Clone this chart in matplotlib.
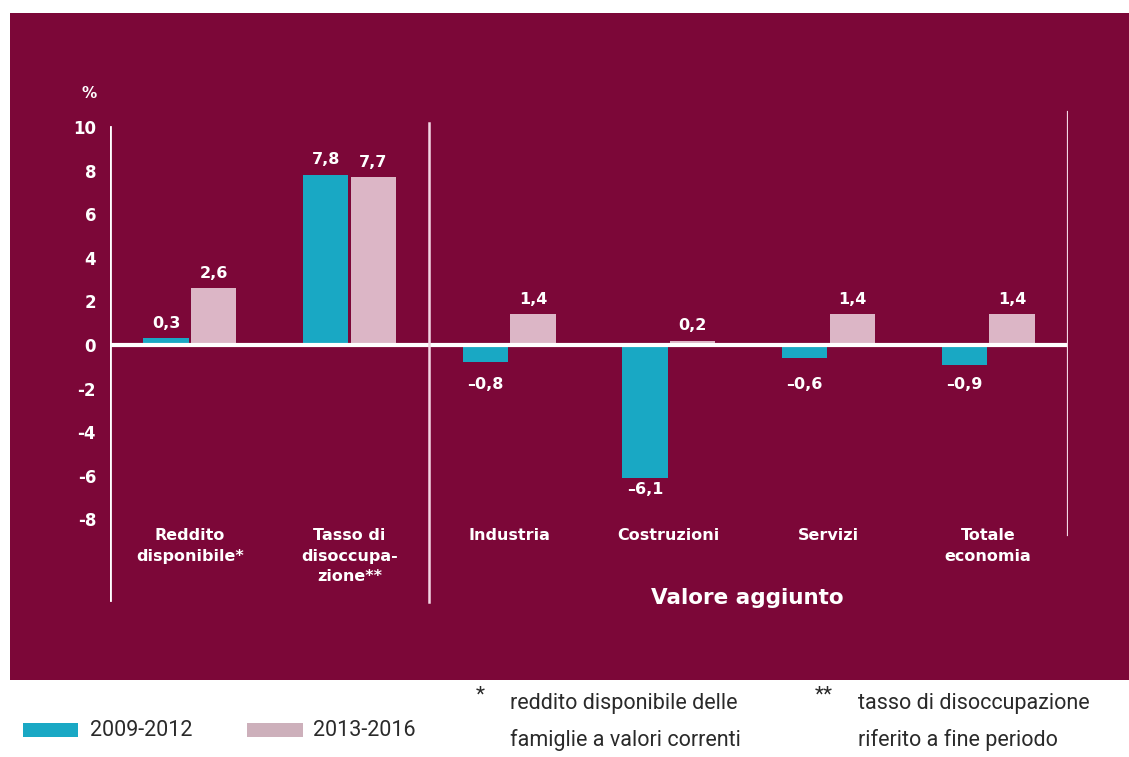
import matplotlib
matplotlib.use("Agg")
import matplotlib.pyplot as plt
from matplotlib.patches import Rectangle
import numpy as np

categories = ["Reddito\ndisponibile*", "Tasso di\ndisoccupa-\nzione**",
              "Industria", "Costruzioni", "Servizi", "Totale\neconomia"]
series_2009_2012 = [0.3, 7.8, -0.8, -6.1, -0.6, -0.9]
series_2013_2016 = [2.6, 7.7, 1.4, 0.2, 1.4, 1.4]
series_names = ["2009-2012", "2013-2016"]
yticks = [-8, -6, -4, -2, 0, 2, 4, 6, 8, 10]

MAROON = "#7c0738"
TEAL = "#19a8c4"
PINK = "#dcb6c6"
WHITE = "#ffffff"
GREY = "#2a2a2a"
NARROW = "Roboto"

W, H = 1129, 757
fig = plt.figure(figsize=(W / 100, H / 100), dpi=100)
fig.patch.set_facecolor("white")

def fx(px):
    return px / W

def fy(py):
    return 1 - py / H

fig.add_artist(Rectangle((fx(10), fy(680)), fx(1129) - fx(10), fy(13) - fy(680),
                         transform=fig.transFigure, facecolor=MAROON,
                         edgecolor="none", zorder=0))

ax = fig.add_axes([fx(110), fy(606.6), fx(1068) - fx(110), fy(83.4) - fy(606.6)])
ax.set_facecolor("none")
ax.set_xlim(-0.5, 5.5)
ax.set_ylim(-12, 12)
for s in ax.spines.values():
    s.set_visible(False)

x = np.arange(len(categories))
bw = 0.285
off = 0.149
ax.bar(x - off, series_2009_2012, bw, color=TEAL, zorder=2)
ax.bar(x + off, series_2013_2016, bw, color=PINK, zorder=2)

def fmt(v):
    s = f"{abs(v):.1f}".replace(".", ",")
    return ("\u2013" + s) if v < 0 else s

for xs, vals in ((x - off, series_2009_2012), (x + off, series_2013_2016)):
    for xi, v in zip(xs, vals):
        if v >= 0:
            ax.text(xi, v + 0.35, fmt(v), ha="center", va="bottom", color=WHITE,
                    fontsize=11.5, fontweight="bold", zorder=4)
        else:
            ax.text(xi, min(v - 0.55, -1.8), fmt(v), ha="center", va="center",
                    color=WHITE, fontsize=11.5, fontweight="bold", zorder=4)

# structural lines
ax.plot([-0.5, 5.5], [0, 0], color=WHITE, lw=3, zorder=3, solid_capstyle="butt")
ax.plot([-0.5, -0.5], [10, -11.7], color=WHITE, lw=2, zorder=3)
ax.plot([1.5, 1.5], [10.2, -11.8], color="#f3d6e4", lw=1.8, zorder=3)
ax.plot([5.5, 5.5], [10.7, -8.7], color="#f3d6e4", lw=1.6, zorder=3)

ax.set_yticks(yticks)
ax.set_yticklabels([str(t) for t in yticks])
ax.tick_params(axis="y", length=0, pad=10, labelcolor=WHITE, labelsize=12)
for lab in ax.get_yticklabels():
    lab.set_fontweight("bold")
ax.set_xticks([])
ax.text(-0.58, 11.55, "%", ha="right", va="center",
        color=WHITE, fontsize=11, fontweight="bold", clip_on=False)

for xi, c in zip(x, categories):
    ax.text(xi, -8.4, c, ha="center", va="top", color=WHITE, fontsize=11.5,
            fontweight="bold", linespacing=1.45)

ax.text(3.49, -11.6, "Valore aggiunto", ha="center", va="center", color=WHITE,
        fontsize=15.5, fontweight="bold", clip_on=False)

def foot(x0, yc, s, size=15.5):
    fig.text(fx(x0), fy(yc), s, ha="left", va="center", color=GREY,
             fontsize=size, family=NARROW)

# legend (bottom strip)
fig.add_artist(Rectangle((fx(23), fy(737)), fx(78) - fx(23), fy(723) - fy(737),
                         transform=fig.transFigure, facecolor=TEAL, edgecolor="none"))
fig.add_artist(Rectangle((fx(247), fy(737)), fx(303) - fx(247), fy(723) - fy(737),
                         transform=fig.transFigure, facecolor="#cdb0bb", edgecolor="none"))
foot(90, 731, series_names[0], 15.5)
foot(313, 731, series_names[1], 15.5)

foot(476, 695, "*", 15)
foot(510, 704, "reddito disponibile delle")
foot(510, 740, "famiglie a valori correnti")
foot(815, 695, "**", 15)
foot(858, 704, "tasso di disoccupazione")
foot(858, 740, "riferito a fine periodo")

fig.savefig("out.png", dpi=100, facecolor="white")
